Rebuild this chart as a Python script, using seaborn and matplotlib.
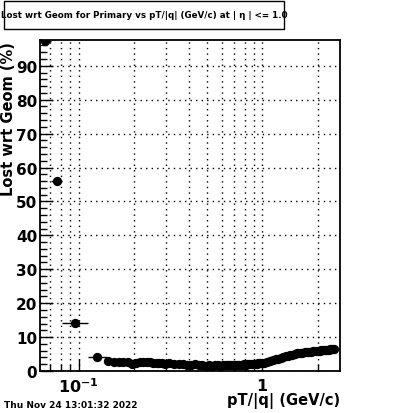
import numpy as np
import pandas as pd
import matplotlib
matplotlib.use("Agg")
import matplotlib.pyplot as plt
import seaborn as sns
from matplotlib.ticker import FixedLocator, LogLocator, AutoMinorLocator, NullFormatter
from matplotlib.patches import Rectangle

sns.set_theme(style="ticks")
plt.rcParams['font.family'] = ['DejaVu Sans']
plt.rcParams['text.color'] = 'black'

# low-pT bins (wide)
pt_low = [0.0654, 0.0759, 0.095, 0.125]
lost_low = [97.3, 56.0, 14.2, 4.1]
pt_low_lo = [0.0614, 0.0705, 0.0806, 0.112]
pt_low_hi = [0.0705, 0.0806, 0.112, 0.142]

# dense bins
pt_hi = [0.145, 0.155, 0.165, 0.175, 0.185, 0.195, 0.205, 0.215, 0.225, 0.235,
         0.245, 0.255, 0.265, 0.275, 0.285, 0.295, 0.31, 0.33, 0.35, 0.37,
         0.39, 0.41, 0.43, 0.45, 0.47, 0.49, 0.51, 0.53, 0.55, 0.57,
         0.59, 0.61, 0.63, 0.65, 0.67, 0.69, 0.71, 0.73, 0.75, 0.77,
         0.79, 0.81, 0.83, 0.85, 0.87, 0.89, 0.91, 0.93, 0.95, 0.97,
         0.99, 1.02, 1.06, 1.10, 1.14, 1.18, 1.22, 1.26, 1.30, 1.34,
         1.38, 1.42, 1.46, 1.50, 1.55, 1.60, 1.65, 1.70, 1.75, 1.80,
         1.85, 1.90, 1.95, 2.00, 2.05, 2.10, 2.15, 2.20, 2.25, 2.30,
         2.35, 2.40, 2.45]
lost_hi = [3.0, 2.7, 2.8, 2.7, 2.8, 2.2, 2.3, 2.7, 2.6, 2.8,
           2.6, 2.4, 2.5, 2.3, 2.4, 2.2, 2.3, 2.1, 2.2, 2.0,
           1.9, 1.8, 2.0, 1.7, 1.8, 1.6, 1.7, 1.6, 1.8, 1.7,
           1.6, 1.8, 1.7, 1.9, 1.8, 1.7, 1.9, 1.8, 1.9, 1.8,
           2.0, 1.9, 2.0, 2.0, 2.1, 2.0, 2.2, 2.1, 2.3, 2.3,
           2.4, 2.5, 2.7, 2.9, 3.2, 3.4, 3.6, 3.9, 4.1, 4.3,
           4.5, 4.6, 4.8, 5.0, 5.2, 5.3, 5.4, 5.5, 5.6, 5.7,
           5.7, 5.8, 5.9, 5.9, 6.0, 6.1, 6.1, 6.2, 6.3, 6.3,
           6.4, 6.5, 6.6]

df = pd.DataFrame({"pt": pt_low + pt_hi, "lost": lost_low + lost_hi})

fig = plt.figure(figsize=(4.0, 4.14), dpi=100)
fig.patch.set_facecolor("white")
ax = fig.add_axes([0.1, 0.1014, 0.75, 0.7995])
ax.set_facecolor("white")

# horizontal bin-width bars
hw = np.gradient(np.array(pt_hi)) / 2
ax.hlines(lost_low, pt_low_lo, pt_low_hi, color="black", lw=1)
ax.hlines(lost_hi, np.array(pt_hi) - hw, np.array(pt_hi) + hw, color="black", lw=1)

sns.scatterplot(data=df, x="pt", y="lost", ax=ax, color="black", s=45,
                edgecolor="black", linewidth=0, zorder=3)

ax.set_xscale("log")
ax.set_xlim(0.0614, 2.65)
ax.set_ylim(0, 97.6)

ax.xaxis.set_major_locator(FixedLocator([0.1, 1]))
ax.set_xticklabels([r"$\mathbf{10^{-1}}$", r"$\mathbf{1}$"])
ax.xaxis.set_minor_locator(LogLocator(base=10, subs=np.arange(2, 10)))
ax.xaxis.set_minor_formatter(NullFormatter())
ax.yaxis.set_major_locator(FixedLocator(range(0, 100, 10)))
ax.yaxis.set_minor_locator(AutoMinorLocator(5))

ax.tick_params(which="both", direction="in", top=False, right=False,
               colors="black", labelcolor="black")
ax.tick_params(which="major", length=9, width=1, labelsize=11, pad=2)
ax.tick_params(which="minor", length=5, width=1)
ax.tick_params(axis="x", which="major", pad=4, labelsize=11.5)
for lab in ax.get_yticklabels():
    lab.set_fontweight("bold")

ax.grid(True, which="major", axis="y", color="black", linestyle=(0, (1, 3)), lw=1)
ax.grid(True, which="both", axis="x", color="black", linestyle=(0, (1, 3)), lw=1)
for sp in ax.spines.values():
    sp.set_color("black")
    sp.set_linewidth(1.3)

ax.set_xlabel("")
ax.set_ylabel("")

fig.text(9 / 400, 1 - 42 / 414, "Lost wrt Geom (%)", rotation=90, ha="center",
         va="top", fontsize=10.5, fontweight="bold", color="black")
fig.text(340 / 400, 1 - 401 / 414, "pT/|q| (GeV/c)", ha="right", va="center",
         fontsize=10.5, fontweight="bold", color="black")

fig.patches.append(Rectangle((4 / 400, 1 - 30 / 414), 280 / 400, 28 / 414,
                             transform=fig.transFigure, fill=False,
                             edgecolor="black", lw=1))
fig.text(144 / 400, 1 - 16 / 414,
         "Lost wrt Geom for Primary vs pT/|q| (GeV/c) at | η | <= 1.0",
         ha="center", va="center", fontsize=6.3, fontweight="bold", color="black")
fig.text(4 / 400, 1 - 406 / 414, "Thu Nov 24 13:01:32 2022", ha="left",
         va="center", fontsize=6.5, fontweight="bold", color="black")

fig.savefig("out.png", dpi=100, facecolor="white")
